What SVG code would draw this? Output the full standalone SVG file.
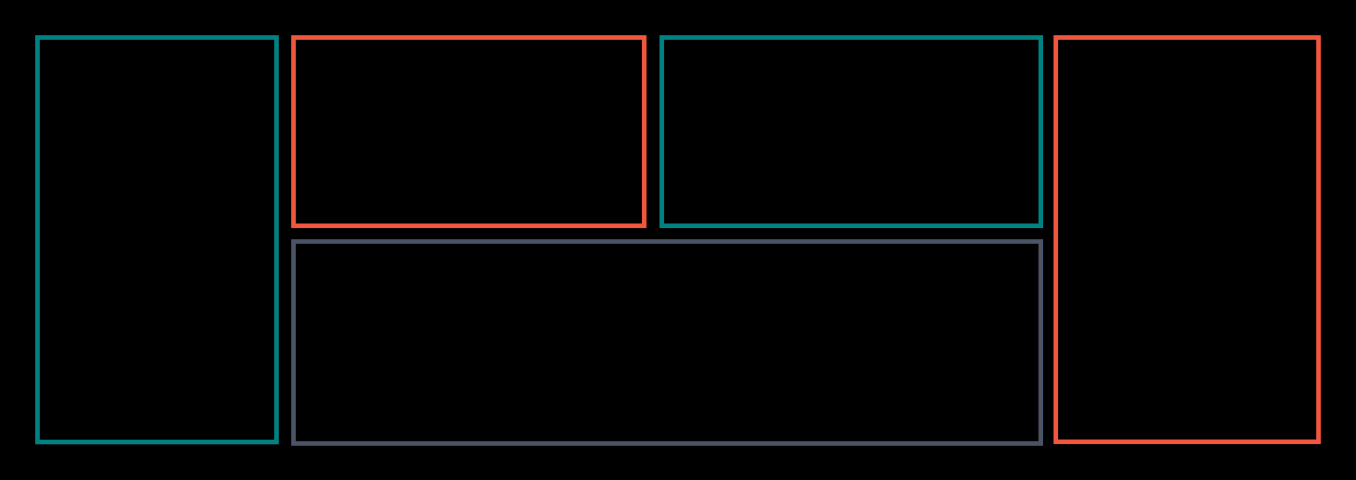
<svg xmlns="http://www.w3.org/2000/svg" width="1356" height="480" viewBox="0 0 1356 480">
  <style>
    .box { fill: none; stroke-width: 4.6; }
    .teal { stroke: #008282; }
    .orange { stroke: #f2573d; }
    .slate { stroke: #4a5466; }
  </style>
  <rect x="0" y="0" width="1356" height="480" fill="#000000"/>
  <g id="left-panel"><rect class="box teal" x="37.5" y="37.5" width="239" height="404.5"/></g>
  <g id="top-middle-left"><rect class="box orange" x="293.5" y="37.5" width="350.7" height="188.3"/></g>
  <g id="top-middle-right"><rect class="box teal" x="661.8" y="37.5" width="379" height="188.3"/></g>
  <g id="bottom-middle"><rect class="box slate" x="293.5" y="241.5" width="747.3" height="202"/></g>
  <g id="right-panel"><rect class="box orange" x="1055.8" y="37.5" width="262.7" height="404.3"/></g>
  <g id="connectors"></g>
</svg>
